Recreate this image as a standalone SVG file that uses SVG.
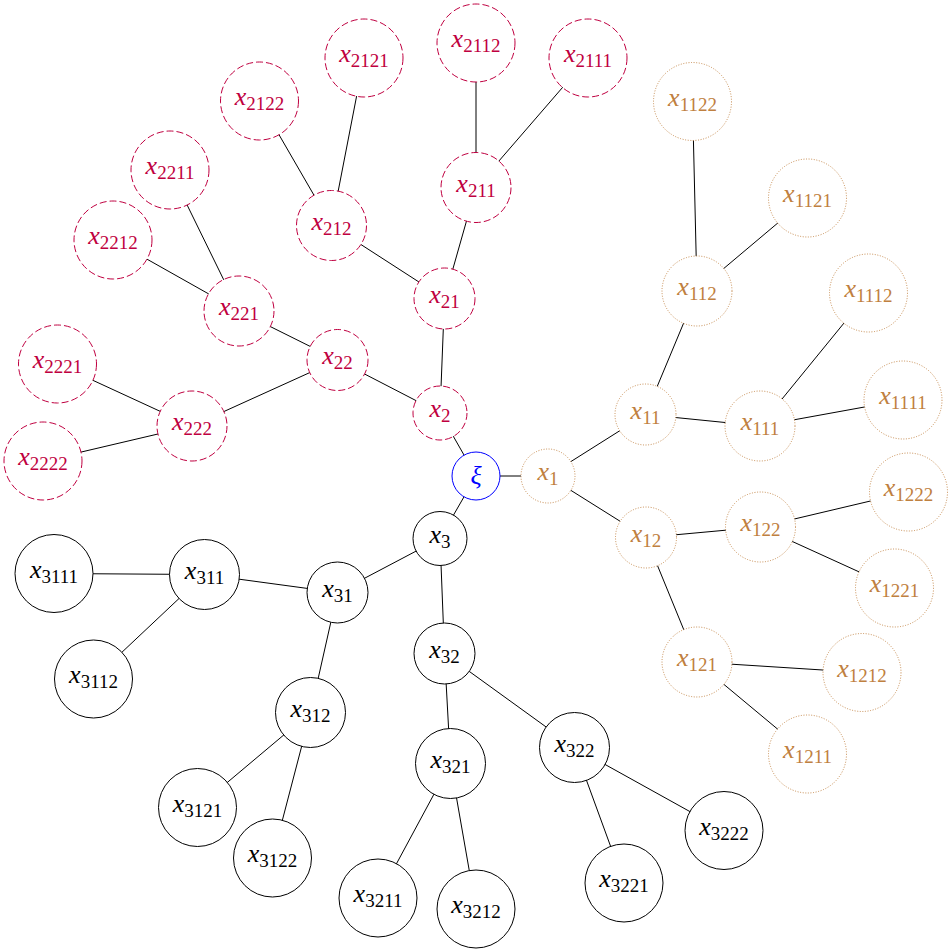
<svg xmlns="http://www.w3.org/2000/svg" width="951" height="950" viewBox="0 0 951 950">
<style>
.e{stroke:#000;stroke-width:1;fill:none}
circle{fill:#fff;stroke-width:1}
.p circle{stroke:#bf0040;stroke-dasharray:7 3}
.b circle{stroke:#bf8040;stroke-dasharray:1 1.6;stroke-width:0.9}
.k circle{stroke:#000}
.r circle{stroke:#0000ff}
text{font-family:'Liberation Serif','DejaVu Serif','Times New Roman',serif;font-size:26px;text-anchor:middle}
.p text{fill:#bf0040}.b text{fill:#bf8040}.k text{fill:#000}.r text{fill:#0000ff}
.m{font-style:italic}
.s{font-size:19px}
</style>
<g id="connectors">
<line class="e" x1="476" y1="476" x2="548" y2="476"/>
<line class="e" x1="476" y1="476" x2="440" y2="413"/>
<line class="e" x1="476" y1="476" x2="440" y2="538.5"/>
<line class="e" x1="548" y1="476" x2="645.5" y2="414.5"/>
<line class="e" x1="548" y1="476" x2="646" y2="537.5"/>
<line class="e" x1="440" y1="413" x2="444.5" y2="298.5"/>
<line class="e" x1="440" y1="413" x2="337.5" y2="360"/>
<line class="e" x1="440" y1="538.5" x2="337.5" y2="592.5"/>
<line class="e" x1="440" y1="538.5" x2="444.5" y2="653.5"/>
<line class="e" x1="645.5" y1="414.5" x2="760" y2="426"/>
<line class="e" x1="645.5" y1="414.5" x2="697" y2="291"/>
<line class="e" x1="646" y1="537.5" x2="697" y2="662"/>
<line class="e" x1="646" y1="537.5" x2="760.5" y2="527"/>
<line class="e" x1="444.5" y1="298.5" x2="476" y2="187.5"/>
<line class="e" x1="444.5" y1="298.5" x2="331.5" y2="225.5"/>
<line class="e" x1="337.5" y1="360" x2="239" y2="311"/>
<line class="e" x1="337.5" y1="360" x2="192" y2="426"/>
<line class="e" x1="337.5" y1="592.5" x2="204.5" y2="574.5"/>
<line class="e" x1="337.5" y1="592.5" x2="310.5" y2="712.5"/>
<line class="e" x1="444.5" y1="653.5" x2="450.5" y2="763.5"/>
<line class="e" x1="444.5" y1="653.5" x2="574.5" y2="747.5"/>
<line class="e" x1="760" y1="426" x2="903" y2="400"/>
<line class="e" x1="760" y1="426" x2="868.5" y2="293"/>
<line class="e" x1="697" y1="291" x2="807.5" y2="198"/>
<line class="e" x1="697" y1="291" x2="692.5" y2="101.5"/>
<line class="e" x1="697" y1="662" x2="807.5" y2="754"/>
<line class="e" x1="697" y1="662" x2="862" y2="672.5"/>
<line class="e" x1="760.5" y1="527" x2="894.5" y2="588"/>
<line class="e" x1="760.5" y1="527" x2="908.5" y2="492"/>
<line class="e" x1="476" y1="187.5" x2="588" y2="58"/>
<line class="e" x1="476" y1="187.5" x2="476" y2="43"/>
<line class="e" x1="331.5" y1="225.5" x2="364" y2="58"/>
<line class="e" x1="331.5" y1="225.5" x2="259.5" y2="101"/>
<line class="e" x1="239" y1="311" x2="170" y2="170"/>
<line class="e" x1="239" y1="311" x2="113" y2="240"/>
<line class="e" x1="192" y1="426" x2="57.5" y2="364"/>
<line class="e" x1="192" y1="426" x2="43" y2="461"/>
<line class="e" x1="204.5" y1="574.5" x2="54" y2="573.5"/>
<line class="e" x1="204.5" y1="574.5" x2="93.5" y2="679"/>
<line class="e" x1="310.5" y1="712.5" x2="197.5" y2="807.5"/>
<line class="e" x1="310.5" y1="712.5" x2="272.5" y2="858"/>
<line class="e" x1="450.5" y1="763.5" x2="378" y2="898"/>
<line class="e" x1="450.5" y1="763.5" x2="476" y2="909"/>
<line class="e" x1="574.5" y1="747.5" x2="624" y2="883"/>
<line class="e" x1="574.5" y1="747.5" x2="724" y2="830.5"/>
</g>
<g font-family="'Liberation Serif', 'DejaVu Serif', serif">
<g id="xi" class="r"><circle cx="476" cy="476" r="24"/><text x="476" y="484" class="m">ξ</text></g>
<g id="x1" class="b"><circle cx="548" cy="476" r="27"/><text x="548" y="480"><tspan class="m">x</tspan><tspan class="s" dy="5">1</tspan></text></g>
<g id="x2" class="p"><circle cx="440" cy="413" r="27"/><text x="440" y="417"><tspan class="m">x</tspan><tspan class="s" dy="5">2</tspan></text></g>
<g id="x3" class="k"><circle cx="440" cy="538.5" r="27"/><text x="440" y="542.5"><tspan class="m">x</tspan><tspan class="s" dy="5">3</tspan></text></g>
<g id="x11" class="b"><circle cx="645.5" cy="414.5" r="30.5"/><text x="645.5" y="418.5"><tspan class="m">x</tspan><tspan class="s" dy="5">11</tspan></text></g>
<g id="x12" class="b"><circle cx="646" cy="537.5" r="30.5"/><text x="646" y="541.5"><tspan class="m">x</tspan><tspan class="s" dy="5">12</tspan></text></g>
<g id="x21" class="p"><circle cx="444.5" cy="298.5" r="30.5"/><text x="444.5" y="302.5"><tspan class="m">x</tspan><tspan class="s" dy="5">21</tspan></text></g>
<g id="x22" class="p"><circle cx="337.5" cy="360" r="30.5"/><text x="337.5" y="364"><tspan class="m">x</tspan><tspan class="s" dy="5">22</tspan></text></g>
<g id="x31" class="k"><circle cx="337.5" cy="592.5" r="30.5"/><text x="337.5" y="596.5"><tspan class="m">x</tspan><tspan class="s" dy="5">31</tspan></text></g>
<g id="x32" class="k"><circle cx="444.5" cy="653.5" r="30.5"/><text x="444.5" y="657.5"><tspan class="m">x</tspan><tspan class="s" dy="5">32</tspan></text></g>
<g id="x111" class="b"><circle cx="760" cy="426" r="35"/><text x="760" y="430"><tspan class="m">x</tspan><tspan class="s" dy="5">111</tspan></text></g>
<g id="x112" class="b"><circle cx="697" cy="291" r="35"/><text x="697" y="295"><tspan class="m">x</tspan><tspan class="s" dy="5">112</tspan></text></g>
<g id="x121" class="b"><circle cx="697" cy="662" r="35"/><text x="697" y="666"><tspan class="m">x</tspan><tspan class="s" dy="5">121</tspan></text></g>
<g id="x122" class="b"><circle cx="760.5" cy="527" r="35"/><text x="760.5" y="531"><tspan class="m">x</tspan><tspan class="s" dy="5">122</tspan></text></g>
<g id="x211" class="p"><circle cx="476" cy="187.5" r="35"/><text x="476" y="191.5"><tspan class="m">x</tspan><tspan class="s" dy="5">211</tspan></text></g>
<g id="x212" class="p"><circle cx="331.5" cy="225.5" r="35"/><text x="331.5" y="229.5"><tspan class="m">x</tspan><tspan class="s" dy="5">212</tspan></text></g>
<g id="x221" class="p"><circle cx="239" cy="311" r="35"/><text x="239" y="315"><tspan class="m">x</tspan><tspan class="s" dy="5">221</tspan></text></g>
<g id="x222" class="p"><circle cx="192" cy="426" r="35"/><text x="192" y="430"><tspan class="m">x</tspan><tspan class="s" dy="5">222</tspan></text></g>
<g id="x311" class="k"><circle cx="204.5" cy="574.5" r="35"/><text x="204.5" y="578.5"><tspan class="m">x</tspan><tspan class="s" dy="5">311</tspan></text></g>
<g id="x312" class="k"><circle cx="310.5" cy="712.5" r="35"/><text x="310.5" y="716.5"><tspan class="m">x</tspan><tspan class="s" dy="5">312</tspan></text></g>
<g id="x321" class="k"><circle cx="450.5" cy="763.5" r="35"/><text x="450.5" y="767.5"><tspan class="m">x</tspan><tspan class="s" dy="5">321</tspan></text></g>
<g id="x322" class="k"><circle cx="574.5" cy="747.5" r="35"/><text x="574.5" y="751.5"><tspan class="m">x</tspan><tspan class="s" dy="5">322</tspan></text></g>
<g id="x1111" class="b"><circle cx="903" cy="400" r="39"/><text x="903" y="404"><tspan class="m">x</tspan><tspan class="s" dy="5">1111</tspan></text></g>
<g id="x1112" class="b"><circle cx="868.5" cy="293" r="39"/><text x="868.5" y="297"><tspan class="m">x</tspan><tspan class="s" dy="5">1112</tspan></text></g>
<g id="x1121" class="b"><circle cx="807.5" cy="198" r="39"/><text x="807.5" y="202"><tspan class="m">x</tspan><tspan class="s" dy="5">1121</tspan></text></g>
<g id="x1122" class="b"><circle cx="692.5" cy="101.5" r="39"/><text x="692.5" y="105.5"><tspan class="m">x</tspan><tspan class="s" dy="5">1122</tspan></text></g>
<g id="x1211" class="b"><circle cx="807.5" cy="754" r="39"/><text x="807.5" y="758"><tspan class="m">x</tspan><tspan class="s" dy="5">1211</tspan></text></g>
<g id="x1212" class="b"><circle cx="862" cy="672.5" r="39"/><text x="862" y="676.5"><tspan class="m">x</tspan><tspan class="s" dy="5">1212</tspan></text></g>
<g id="x1221" class="b"><circle cx="894.5" cy="588" r="39"/><text x="894.5" y="592"><tspan class="m">x</tspan><tspan class="s" dy="5">1221</tspan></text></g>
<g id="x1222" class="b"><circle cx="908.5" cy="492" r="39"/><text x="908.5" y="496"><tspan class="m">x</tspan><tspan class="s" dy="5">1222</tspan></text></g>
<g id="x2111" class="p"><circle cx="588" cy="58" r="39"/><text x="588" y="62"><tspan class="m">x</tspan><tspan class="s" dy="5">2111</tspan></text></g>
<g id="x2112" class="p"><circle cx="476" cy="43" r="39"/><text x="476" y="47"><tspan class="m">x</tspan><tspan class="s" dy="5">2112</tspan></text></g>
<g id="x2121" class="p"><circle cx="364" cy="58" r="39"/><text x="364" y="62"><tspan class="m">x</tspan><tspan class="s" dy="5">2121</tspan></text></g>
<g id="x2122" class="p"><circle cx="259.5" cy="101" r="39"/><text x="259.5" y="105"><tspan class="m">x</tspan><tspan class="s" dy="5">2122</tspan></text></g>
<g id="x2211" class="p"><circle cx="170" cy="170" r="39"/><text x="170" y="174"><tspan class="m">x</tspan><tspan class="s" dy="5">2211</tspan></text></g>
<g id="x2212" class="p"><circle cx="113" cy="240" r="39"/><text x="113" y="244"><tspan class="m">x</tspan><tspan class="s" dy="5">2212</tspan></text></g>
<g id="x2221" class="p"><circle cx="57.5" cy="364" r="39"/><text x="57.5" y="368"><tspan class="m">x</tspan><tspan class="s" dy="5">2221</tspan></text></g>
<g id="x2222" class="p"><circle cx="43" cy="461" r="39"/><text x="43" y="465"><tspan class="m">x</tspan><tspan class="s" dy="5">2222</tspan></text></g>
<g id="x3111" class="k"><circle cx="54" cy="573.5" r="39"/><text x="54" y="577.5"><tspan class="m">x</tspan><tspan class="s" dy="5">3111</tspan></text></g>
<g id="x3112" class="k"><circle cx="93.5" cy="679" r="39"/><text x="93.5" y="683"><tspan class="m">x</tspan><tspan class="s" dy="5">3112</tspan></text></g>
<g id="x3121" class="k"><circle cx="197.5" cy="807.5" r="39"/><text x="197.5" y="811.5"><tspan class="m">x</tspan><tspan class="s" dy="5">3121</tspan></text></g>
<g id="x3122" class="k"><circle cx="272.5" cy="858" r="39"/><text x="272.5" y="862"><tspan class="m">x</tspan><tspan class="s" dy="5">3122</tspan></text></g>
<g id="x3211" class="k"><circle cx="378" cy="898" r="39"/><text x="378" y="902"><tspan class="m">x</tspan><tspan class="s" dy="5">3211</tspan></text></g>
<g id="x3212" class="k"><circle cx="476" cy="909" r="39"/><text x="476" y="913"><tspan class="m">x</tspan><tspan class="s" dy="5">3212</tspan></text></g>
<g id="x3221" class="k"><circle cx="624" cy="883" r="39"/><text x="624" y="887"><tspan class="m">x</tspan><tspan class="s" dy="5">3221</tspan></text></g>
<g id="x3222" class="k"><circle cx="724" cy="830.5" r="39"/><text x="724" y="834.5"><tspan class="m">x</tspan><tspan class="s" dy="5">3222</tspan></text></g>
</g>
</svg>
